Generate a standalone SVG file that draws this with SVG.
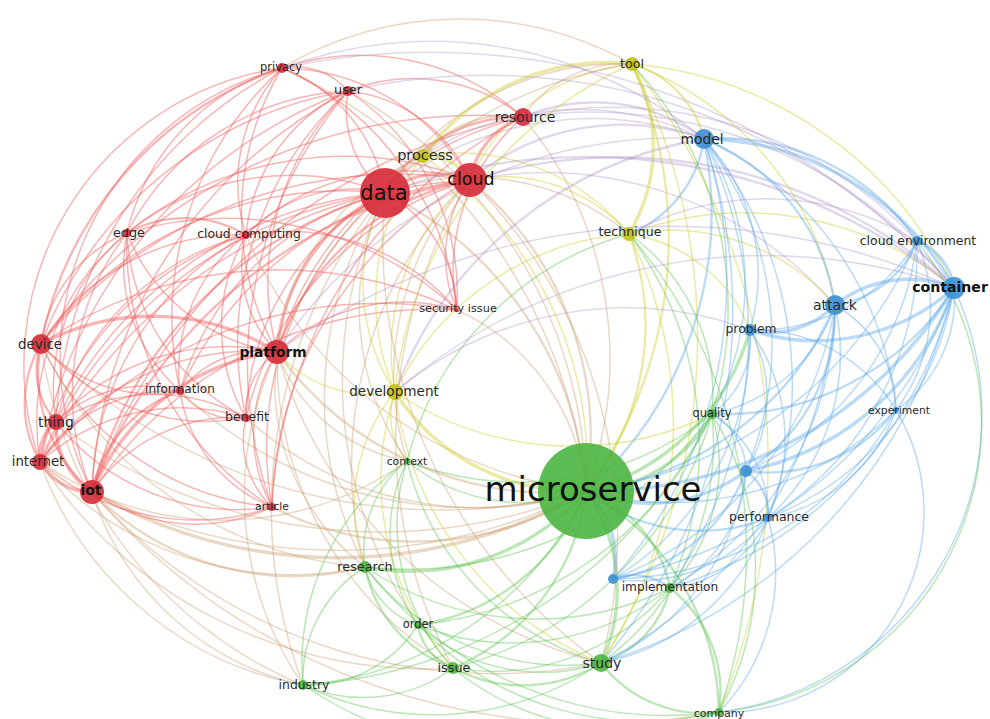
<svg xmlns="http://www.w3.org/2000/svg" width="990" height="719" viewBox="0 0 990 719">
<style>
#connectors path{fill:none;stroke-width:1.5;stroke-linecap:round}
.r{stroke:#ef5a5a;stroke-opacity:.45}
.o{stroke:#c8986a;stroke-opacity:.38}
.y{stroke:#d0d036;stroke-opacity:.45}
.g{stroke:#5cc450;stroke-opacity:.42}
.b{stroke:#5aa6e6;stroke-opacity:.42}
.p{stroke:#a88cc4;stroke-opacity:.35}
.t2{stroke-width:2.3 !important}
.t3{stroke-width:3.4 !important}
.nr{fill:#d62f3b;fill-opacity:.92}
.ny{fill:#c3c31c;fill-opacity:.92}
.ng{fill:#4cb541;fill-opacity:.9}
.nb{fill:#3f91d2;fill-opacity:.92}
text{font-family:"DejaVu Sans","Noto Sans",sans-serif;fill:#2a2a2a;text-anchor:middle;dominant-baseline:central}
.big{fill:#111}
.bold{font-weight:bold;fill:#111}
</style>
<rect width="990" height="719" fill="#fff"/>
<g id="connectors">
<path class="r" d="M282 68A162 162 0 0 1 385 193"/>
<path class="r" d="M385 193A108 108 0 0 1 348 91"/>
<path class="r" d="M127 233A261 261 0 0 1 385 193"/>
<path class="r" d="M246 235A145 145 0 0 1 385 193"/>
<path class="r" d="M41 344A376 376 0 0 1 385 193"/>
<path class="r t3" d="M277 352A192 192 0 0 1 385 193"/>
<path class="r" d="M180 391A285 285 0 0 1 385 193"/>
<path class="r" d="M246 418A264 264 0 0 1 385 193"/>
<path class="r" d="M56 422A401 401 0 0 1 385 193"/>
<path class="r" d="M40 462A437 437 0 0 1 385 193"/>
<path class="r t2" d="M92 492A419 419 0 0 1 385 193"/>
<path class="r" d="M272 507A334 334 0 0 1 385 193"/>
<path class="r t2" d="M385 193A158 158 0 0 1 523 117"/>
<path class="r t3" d="M385 193A86 86 0 0 1 470 180"/>
<path class="r" d="M385 193A137 137 0 0 1 457 310"/>
<path class="o t2" d="M385 193A359 359 0 0 1 586 491"/>
<path class="y" d="M395 392A199 199 0 0 1 385 193"/>
<path class="o" d="M365 567A375 375 0 0 1 385 193"/>
<path class="p" d="M385 193A323 323 0 0 1 704 139"/>
<path class="o" d="M385 193A247 247 0 0 1 629 234"/>
<path class="o t2" d="M385 193A53 53 0 0 1 423 156"/>
<path class="r" d="M282 68A219 219 0 0 1 470 180"/>
<path class="r" d="M348 91A151 151 0 0 1 470 180"/>
<path class="r t3" d="M470 180A82 82 0 0 1 523 117"/>
<path class="r" d="M127 233A347 347 0 0 1 470 180"/>
<path class="r" d="M246 235A231 231 0 0 1 470 180"/>
<path class="r" d="M41 344A459 459 0 0 1 470 180"/>
<path class="r t2" d="M277 352A258 258 0 0 1 470 180"/>
<path class="r" d="M180 391A359 359 0 0 1 470 180"/>
<path class="r t2" d="M92 492A490 490 0 0 1 470 180"/>
<path class="r" d="M40 462A514 514 0 0 1 470 180"/>
<path class="r" d="M246 418A327 327 0 0 1 470 180"/>
<path class="o t2" d="M470 180A332 332 0 0 1 586 491"/>
<path class="r" d="M457 310A131 131 0 0 1 470 180"/>
<path class="y" d="M470 180A199 199 0 0 1 632 64"/>
<path class="p t2" d="M470 180A238 238 0 0 1 704 139"/>
<path class="r" d="M272 507A382 382 0 0 1 470 180"/>
<path class="y" d="M395 392A225 225 0 0 1 470 180"/>
<path class="y" d="M470 180A168 168 0 0 1 629 234"/>
<path class="p" d="M470 180A386 386 0 0 1 835 305"/>
<path class="p t2" d="M470 180A496 496 0 0 1 954 288"/>
<path class="r" d="M282 68A246 246 0 0 1 523 117"/>
<path class="r" d="M348 91A177 177 0 0 1 523 117"/>
<path class="o" d="M523 117A379 379 0 0 1 586 491"/>
<path class="r" d="M277 352A340 340 0 0 1 523 117"/>
<path class="r" d="M92 492A571 571 0 0 1 523 117"/>
<path class="r" d="M41 344A533 533 0 0 1 523 117"/>
<path class="p" d="M523 117A464 464 0 0 1 954 288"/>
<path class="p t2" d="M523 117A182 182 0 0 1 704 139"/>
<path class="o" d="M523 117A121 121 0 0 1 632 64"/>
<path class="p" d="M523 117A413 413 0 0 1 917 241"/>
<path class="r" d="M272 507A464 464 0 0 1 523 117"/>
<path class="r" d="M457 310A204 204 0 0 1 523 117"/>
<path class="r t2" d="M41 344A366 366 0 0 1 282 68"/>
<path class="r" d="M127 233A226 226 0 0 1 282 68"/>
<path class="r" d="M92 492A300 300 0 0 1 282 68"/>
<path class="r" d="M40 462A300 300 0 0 1 282 68"/>
<path class="r" d="M277 352A284 284 0 0 1 282 68"/>
<path class="r" d="M282 68A70 70 0 0 1 348 91"/>
<path class="r" d="M56 422A420 420 0 0 1 282 68"/>
<path class="o" d="M282 68A521 521 0 0 1 586 491"/>
<path class="r" d="M246 235A171 171 0 0 1 282 68"/>
<path class="r" d="M180 391A339 339 0 0 1 282 68"/>
<path class="r" d="M41 344A398 398 0 0 1 348 91"/>
<path class="r" d="M277 352A270 270 0 0 1 348 91"/>
<path class="r" d="M92 492A476 476 0 0 1 348 91"/>
<path class="r" d="M127 233A263 263 0 0 1 348 91"/>
<path class="r" d="M246 418A343 343 0 0 1 348 91"/>
<path class="r" d="M40 462A482 482 0 0 1 348 91"/>
<path class="r" d="M246 235A176 176 0 0 1 348 91"/>
<path class="r" d="M272 507A423 423 0 0 1 348 91"/>
<path class="o" d="M348 91A465 465 0 0 1 586 491"/>
<path class="r" d="M41 344A140 140 0 0 1 127 233"/>
<path class="r" d="M92 492A261 261 0 0 1 127 233"/>
<path class="r" d="M40 462A245 245 0 0 1 127 233"/>
<path class="r" d="M56 422A202 202 0 0 1 127 233"/>
<path class="r" d="M277 352A191 191 0 0 1 127 233"/>
<path class="r t2" d="M127 233A119 119 0 0 1 246 235"/>
<path class="r" d="M246 418A220 220 0 0 1 127 233"/>
<path class="r" d="M180 391A167 167 0 0 1 127 233"/>
<path class="r" d="M272 507A310 310 0 0 1 127 233"/>
<path class="r" d="M41 344A232 232 0 0 1 246 235"/>
<path class="r" d="M277 352A121 121 0 0 1 246 235"/>
<path class="r" d="M92 492A300 300 0 0 1 246 235"/>
<path class="r" d="M40 462A307 307 0 0 1 246 235"/>
<path class="r" d="M56 422A267 267 0 0 1 246 235"/>
<path class="r" d="M246 418A183 183 0 0 1 246 235"/>
<path class="r" d="M180 391A169 169 0 0 1 246 235"/>
<path class="o" d="M586 491A426 426 0 0 1 246 235"/>
<path class="r t3" d="M41 344A236 236 0 0 1 277 352"/>
<path class="r t2" d="M56 422A79 79 0 0 1 41 344"/>
<path class="r t2" d="M40 462A118 118 0 0 1 41 344"/>
<path class="r t2" d="M92 492A157 157 0 0 1 41 344"/>
<path class="r" d="M180 391A147 147 0 0 1 41 344"/>
<path class="r" d="M246 418A218 218 0 0 1 41 344"/>
<path class="r" d="M272 507A283 283 0 0 1 41 344"/>
<path class="o" d="M586 491A564 564 0 0 1 41 344"/>
<path class="r" d="M41 344A417 417 0 0 1 457 310"/>
<path class="r" d="M56 422A232 232 0 0 1 277 352"/>
<path class="r" d="M40 462A261 261 0 0 1 277 352"/>
<path class="r t3" d="M92 492A232 232 0 0 1 277 352"/>
<path class="r" d="M180 391A105 105 0 0 1 277 352"/>
<path class="r" d="M246 418A73 73 0 0 1 277 352"/>
<path class="r" d="M272 507A155 155 0 0 1 277 352"/>
<path class="o t2" d="M586 491A339 339 0 0 1 277 352"/>
<path class="r" d="M277 352A185 185 0 0 1 457 310"/>
<path class="y" d="M395 392A125 125 0 0 1 277 352"/>
<path class="p" d="M277 352A680 680 0 0 1 954 288"/>
<path class="p" d="M277 352A477 477 0 0 1 704 139"/>
<path class="r" d="M56 422A128 128 0 0 1 180 391"/>
<path class="r" d="M40 462A157 157 0 0 1 180 391"/>
<path class="r t2" d="M92 492A134 134 0 0 1 180 391"/>
<path class="r" d="M246 418A71 71 0 0 1 180 391"/>
<path class="o" d="M586 491A418 418 0 0 1 180 391"/>
<path class="r" d="M92 492A171 171 0 0 1 246 418"/>
<path class="r" d="M40 462A211 211 0 0 1 246 418"/>
<path class="r" d="M56 422A190 190 0 0 1 246 418"/>
<path class="o" d="M586 491A348 348 0 0 1 246 418"/>
<path class="r t3" d="M40 462A43 43 0 0 1 56 422"/>
<path class="r t3" d="M92 492A79 79 0 0 1 56 422"/>
<path class="r t3" d="M92 492A60 60 0 0 1 40 462"/>
<path class="o t3" d="M586 491A494 494 0 0 1 92 492"/>
<path class="r" d="M272 507A181 181 0 0 1 92 492"/>
<path class="o" d="M719 712A664 664 0 0 1 92 492"/>
<path class="o" d="M601 663A537 537 0 0 1 92 492"/>
<path class="o t2" d="M365 567A283 283 0 0 1 92 492"/>
<path class="o" d="M586 491A547 547 0 0 1 40 462"/>
<path class="o" d="M586 491A534 534 0 0 1 56 422"/>
<path class="o" d="M303 685A286 286 0 0 1 92 492"/>
<path class="o" d="M453 668A461 461 0 0 1 40 462"/>
<path class="o t2" d="M586 491A314 314 0 0 1 272 507"/>
<path class="o" d="M457 310A222 222 0 0 1 586 491"/>
<path class="r" d="M92 492A408 408 0 0 1 457 310"/>
<path class="r" d="M348 91A245 245 0 0 1 457 310"/>
<path class="r" d="M282 68A299 299 0 0 1 457 310"/>
<path class="r" d="M127 233A339 339 0 0 1 457 310"/>
<path class="r" d="M40 462A444 444 0 0 1 457 310"/>
<path class="r" d="M246 235A224 224 0 0 1 457 310"/>
<path class="r" d="M272 507A236 236 0 0 1 40 462"/>
<path class="r" d="M272 507A232 232 0 0 1 56 422"/>
<path class="r" d="M272 507A148 148 0 0 1 180 391"/>
<path class="r" d="M272 507A92 92 0 0 1 246 418"/>
<path class="y t3" d="M632 64A170 170 0 0 1 629 234"/>
<path class="y t3" d="M423 156A228 228 0 0 1 632 64"/>
<path class="y" d="M395 392A405 405 0 0 1 632 64"/>
<path class="y t2" d="M632 64A429 429 0 0 1 586 491"/>
<path class="o" d="M385 193A279 279 0 0 1 632 64"/>
<path class="y" d="M632 64A392 392 0 0 1 954 288"/>
<path class="y t2" d="M632 64A104 104 0 0 1 704 139"/>
<path class="o" d="M282 68A350 350 0 0 1 632 64"/>
<path class="y" d="M632 64A315 315 0 0 1 835 305"/>
<path class="y" d="M632 64A600 600 0 0 1 601 663"/>
<path class="y" d="M632 64A654 654 0 0 1 719 712"/>
<path class="o" d="M277 352A457 457 0 0 1 632 64"/>
<path class="y t3" d="M423 156A52 52 0 0 1 470 180"/>
<path class="y" d="M395 392A238 238 0 0 1 423 156"/>
<path class="y" d="M423 156A373 373 0 0 1 586 491"/>
<path class="y" d="M423 156A220 220 0 0 1 629 234"/>
<path class="p" d="M423 156A282 282 0 0 1 704 139"/>
<path class="o t2" d="M423 156A107 107 0 0 1 523 117"/>
<path class="o" d="M277 352A244 244 0 0 1 423 156"/>
<path class="y t2" d="M629 234A261 261 0 0 1 586 491"/>
<path class="y" d="M395 392A282 282 0 0 1 629 234"/>
<path class="b t2" d="M704 139A121 121 0 0 1 629 234"/>
<path class="y" d="M629 234A218 218 0 0 1 835 305"/>
<path class="y" d="M629 234A154 154 0 0 1 750 330"/>
<path class="y" d="M629 234A430 430 0 0 1 601 663"/>
<path class="y" d="M629 234A329 329 0 0 1 954 288"/>
<path class="y t3" d="M586 491A215 215 0 0 1 395 392"/>
<path class="y" d="M365 567A178 178 0 0 1 395 392"/>
<path class="y" d="M601 663A340 340 0 0 1 395 392"/>
<path class="y" d="M453 668A282 282 0 0 1 395 392"/>
<path class="y" d="M407 461A70 70 0 0 1 395 392"/>
<path class="y" d="M712 414A318 318 0 0 1 395 392"/>
<path class="g t3" d="M586 491A173 173 0 0 1 601 663"/>
<path class="g t2" d="M586 491A221 221 0 0 1 453 668"/>
<path class="g t3" d="M586 491A234 234 0 0 1 365 567"/>
<path class="g t2" d="M586 491A215 215 0 0 1 418 625"/>
<path class="g" d="M586 491A343 343 0 0 1 303 685"/>
<path class="g t2" d="M586 491A258 258 0 0 1 719 712"/>
<path class="g t3" d="M712 414A148 148 0 0 1 586 491"/>
<path class="g t2" d="M586 491A128 128 0 0 1 670 588"/>
<path class="g" d="M586 491A181 181 0 0 1 407 461"/>
<path class="b t2" d="M704 139A371 371 0 0 1 586 491"/>
<path class="b t3" d="M954 288A420 420 0 0 1 586 491"/>
<path class="b t2" d="M835 305A311 311 0 0 1 586 491"/>
<path class="g t3" d="M750 330A230 230 0 0 1 586 491"/>
<path class="b" d="M917 241A415 415 0 0 1 586 491"/>
<path class="b" d="M896 410A320 320 0 0 1 586 491"/>
<path class="b t3" d="M746 471A163 163 0 0 1 586 491"/>
<path class="b t2" d="M768 518A184 184 0 0 1 586 491"/>
<path class="b t3" d="M586 491A92 92 0 0 1 613 579"/>
<path class="g t2" d="M601 663A148 148 0 0 1 453 668"/>
<path class="g" d="M601 663A255 255 0 0 1 365 567"/>
<path class="g" d="M601 663A187 187 0 0 1 418 625"/>
<path class="g" d="M601 663A299 299 0 0 1 303 685"/>
<path class="g t2" d="M719 712A128 128 0 0 1 601 663"/>
<path class="g t2" d="M670 588A102 102 0 0 1 601 663"/>
<path class="g" d="M712 414A273 273 0 0 1 601 663"/>
<path class="g" d="M601 663A280 280 0 0 1 407 461"/>
<path class="b" d="M954 288A515 515 0 0 1 601 663"/>
<path class="b" d="M768 518A221 221 0 0 1 601 663"/>
<path class="b" d="M835 305A428 428 0 0 1 601 663"/>
<path class="g t2" d="M453 668A134 134 0 0 1 365 567"/>
<path class="g" d="M418 625A79 79 0 0 1 365 567"/>
<path class="g" d="M303 685A133 133 0 0 1 365 567"/>
<path class="g" d="M365 567A114 114 0 0 1 407 461"/>
<path class="g" d="M719 712A383 383 0 0 1 365 567"/>
<path class="g" d="M712 414A379 379 0 0 1 365 567"/>
<path class="o" d="M365 567A342 342 0 0 1 40 462"/>
<path class="o" d="M365 567A393 393 0 0 1 41 344"/>
<path class="o" d="M365 567A232 232 0 0 1 277 352"/>
<path class="o" d="M365 567A401 401 0 0 1 470 180"/>
<path class="o" d="M601 663A517 517 0 0 1 385 193"/>
<path class="o" d="M470 180A500 500 0 0 1 601 663"/>
<path class="o" d="M601 663A449 449 0 0 1 277 352"/>
<path class="o" d="M453 668A488 488 0 0 1 470 180"/>
<path class="o" d="M453 668A362 362 0 0 1 277 352"/>
<path class="o" d="M303 685A334 334 0 0 1 277 352"/>
<path class="o" d="M303 685A499 499 0 0 1 385 193"/>
<path class="o" d="M418 625A433 433 0 0 1 385 193"/>
<path class="o" d="M407 461A269 269 0 0 1 385 193"/>
<path class="o" d="M407 461A288 288 0 0 1 470 180"/>
<path class="o" d="M407 461A170 170 0 0 1 277 352"/>
<path class="o" d="M407 461A317 317 0 0 1 92 492"/>
<path class="g" d="M629 234A198 198 0 0 1 712 414"/>
<path class="g" d="M632 64A359 359 0 0 1 712 414"/>
<path class="g" d="M629 234A356 356 0 0 1 670 588"/>
<path class="g" d="M629 234A486 486 0 0 1 719 712"/>
<path class="g t2" d="M453 668A55 55 0 0 1 418 625"/>
<path class="g" d="M453 668A151 151 0 0 1 303 685"/>
<path class="g" d="M719 712A270 270 0 0 1 453 668"/>
<path class="g" d="M670 588A231 231 0 0 1 453 668"/>
<path class="g" d="M453 668A212 212 0 0 1 407 461"/>
<path class="g" d="M712 414A363 363 0 0 1 453 668"/>
<path class="g" d="M719 712A417 417 0 0 1 303 685"/>
<path class="g" d="M418 625A130 130 0 0 1 303 685"/>
<path class="g" d="M303 685A247 247 0 0 1 407 461"/>
<path class="o" d="M303 685A345 345 0 0 1 40 462"/>
<path class="o" d="M303 685A430 430 0 0 1 41 344"/>
<path class="g" d="M712 414A491 491 0 0 1 303 685"/>
<path class="g t2" d="M670 588A133 133 0 0 1 719 712"/>
<path class="g" d="M712 414A298 298 0 0 1 719 712"/>
<path class="b" d="M768 518A200 200 0 0 1 719 712"/>
<path class="b" d="M954 288A300 300 0 0 1 719 712"/>
<path class="b" d="M896 410A200 200 0 0 1 719 712"/>
<path class="g" d="M917 241A290 290 0 0 1 719 712"/>
<path class="g" d="M719 712A313 313 0 0 1 418 625"/>
<path class="b" d="M750 330A92 92 0 0 1 712 414"/>
<path class="g" d="M712 414A309 309 0 0 1 407 461"/>
<path class="g" d="M712 414A179 179 0 0 1 670 588"/>
<path class="g" d="M712 414A362 362 0 0 1 418 625"/>
<path class="b" d="M835 305A164 164 0 0 1 712 414"/>
<path class="g" d="M670 588A255 255 0 0 1 418 625"/>
<path class="g" d="M670 588A306 306 0 0 1 365 567"/>
<path class="b" d="M768 518A120 120 0 0 1 670 588"/>
<path class="b" d="M746 471A140 140 0 0 1 670 588"/>
<path class="g" d="M418 625A164 164 0 0 1 407 461"/>
<path class="g" d="M407 461A317 317 0 0 1 629 234"/>
<path class="b t2" d="M704 139A236 236 0 0 1 917 241"/>
<path class="b t3" d="M704 139A291 291 0 0 1 954 288"/>
<path class="b t2" d="M704 139A211 211 0 0 1 835 305"/>
<path class="b" d="M704 139A196 196 0 0 1 750 330"/>
<path class="b" d="M704 139A332 332 0 0 1 896 410"/>
<path class="b" d="M704 139A335 335 0 0 1 746 471"/>
<path class="b" d="M704 139A384 384 0 0 1 768 518"/>
<path class="b" d="M704 139A449 449 0 0 1 613 579"/>
<path class="b" d="M704 139A275 275 0 0 1 712 414"/>
<path class="p t2" d="M395 392A399 399 0 0 1 704 139"/>
<path class="b" d="M704 139A534 534 0 0 1 601 663"/>
<path class="b" d="M704 139A450 450 0 0 1 670 588"/>
<path class="b t3" d="M917 241A60 60 0 0 1 954 288"/>
<path class="b t2" d="M917 241A104 104 0 0 1 835 305"/>
<path class="b" d="M917 241A189 189 0 0 1 750 330"/>
<path class="b" d="M917 241A170 170 0 0 1 896 410"/>
<path class="b" d="M917 241A287 287 0 0 1 746 471"/>
<path class="b" d="M917 241A315 315 0 0 1 768 518"/>
<path class="p" d="M629 234A288 288 0 0 1 917 241"/>
<path class="b t3" d="M835 305A120 120 0 0 1 954 288"/>
<path class="b t3" d="M954 288A208 208 0 0 1 750 330"/>
<path class="b" d="M954 288A135 135 0 0 1 896 410"/>
<path class="b t3" d="M954 288A277 277 0 0 1 746 471"/>
<path class="b" d="M954 288A296 296 0 0 1 768 518"/>
<path class="b" d="M954 288A448 448 0 0 1 613 579"/>
<path class="b t2" d="M954 288A273 273 0 0 1 712 414"/>
<path class="b" d="M954 288A413 413 0 0 1 670 588"/>
<path class="p" d="M395 392A569 569 0 0 1 954 288"/>
<path class="b t3" d="M835 305A89 89 0 0 1 750 330"/>
<path class="b" d="M835 305A121 121 0 0 1 896 410"/>
<path class="b t2" d="M835 305A188 188 0 0 1 746 471"/>
<path class="b" d="M835 305A223 223 0 0 1 768 518"/>
<path class="b" d="M835 305A353 353 0 0 1 613 579"/>
<path class="b" d="M835 305A328 328 0 0 1 670 588"/>
<path class="b" d="M750 330A141 141 0 0 1 746 471"/>
<path class="b" d="M750 330A189 189 0 0 1 768 518"/>
<path class="b" d="M750 330A284 284 0 0 1 613 579"/>
<path class="b" d="M750 330A166 166 0 0 1 896 410"/>
<path class="p" d="M395 392A360 360 0 0 1 750 330"/>
<path class="b t2" d="M896 410A162 162 0 0 1 746 471"/>
<path class="b" d="M896 410A167 167 0 0 1 768 518"/>
<path class="b" d="M896 410A330 330 0 0 1 613 579"/>
<path class="b t2" d="M746 471A52 52 0 0 1 768 518"/>
<path class="b t2" d="M746 471A171 171 0 0 1 613 579"/>
<path class="b" d="M712 414A66 66 0 0 1 746 471"/>
<path class="b" d="M768 518A167 167 0 0 1 613 579"/>
<path class="b t2" d="M613 579A58 58 0 0 1 670 588"/>
<path class="b" d="M746 471A241 241 0 0 1 601 663"/>
<path class="b" d="M712 414A118 118 0 0 1 768 518"/>
<path class="p" d="M282 68A430 430 0 0 1 704 139"/>
<path class="p" d="M348 91A620 620 0 0 1 954 288"/>
<path class="p t2" d="M385 193A580 580 0 0 1 954 288"/>
<path class="p" d="M282 68A700 700 0 0 1 954 288"/>
</g>
<g id="node-privacy"><circle class="nr" cx="282" cy="68" r="5"/><text x="281" y="67" font-size="11.4">privacy</text></g>
<g id="node-user"><circle class="nr" cx="348" cy="91" r="5"/><text x="348" y="89" font-size="12.8">user</text></g>
<g id="node-resource"><circle class="nr" cx="523" cy="117" r="9"/><text x="525" y="117" font-size="14">resource</text></g>
<g id="node-data"><circle class="nr" cx="385" cy="193" r="25"/><text class="big" x="384" y="193" font-size="21">data</text></g>
<g id="node-cloud"><circle class="nr" cx="470" cy="180" r="17"/><text class="big" x="471" y="179" font-size="17.5">cloud</text></g>
<g id="node-edge"><circle class="nr" cx="127" cy="233" r="4"/><text x="129" y="232" font-size="12.8">edge</text></g>
<g id="node-cloud-computing"><circle class="nr" cx="246" cy="235" r="4"/><text x="249" y="233" font-size="12.4">cloud computing</text></g>
<g id="node-security-issue"><circle class="nr" cx="457" cy="310" r="2"/><text x="458" y="308" font-size="11.3">security issue</text></g>
<g id="node-device"><circle class="nr" cx="41" cy="344" r="10"/><text x="40" y="344" font-size="13.4">device</text></g>
<g id="node-platform"><circle class="nr" cx="277" cy="352" r="12"/><text class="bold" x="273" y="352" font-size="13.8">platform</text></g>
<g id="node-information"><circle class="nr" cx="180" cy="391" r="4"/><text x="180" y="389" font-size="12.1">information</text></g>
<g id="node-benefit"><circle class="nr" cx="246" cy="418" r="4"/><text x="247" y="416" font-size="12.5">benefit</text></g>
<g id="node-thing"><circle class="nr" cx="56" cy="422" r="8"/><text x="56" y="422" font-size="14">thing</text></g>
<g id="node-internet"><circle class="nr" cx="40" cy="462" r="8"/><text x="38" y="461" font-size="13.3">internet</text></g>
<g id="node-iot"><circle class="nr" cx="92" cy="492" r="12"/><text class="bold" x="91" y="490" font-size="14">iot</text></g>
<g id="node-article"><circle class="nr" cx="272" cy="507" r="4"/><text x="272" y="506" font-size="10.8">article</text></g>
<g id="node-process"><circle class="ny" cx="423" cy="156" r="7"/><text x="425" y="155" font-size="14.5">process</text></g>
<g id="node-tool"><circle class="ny" cx="632" cy="64" r="7"/><text x="632" y="63" font-size="12.7">tool</text></g>
<g id="node-technique"><circle class="ny" cx="629" cy="234" r="7"/><text x="630" y="231" font-size="12.6">technique</text></g>
<g id="node-development"><circle class="ny" cx="395" cy="392" r="8"/><text x="394" y="391" font-size="13.6">development</text></g>
<g id="node-microservice"><circle class="ng" cx="586" cy="491" r="48"/><text class="big" x="593" y="489" font-size="34">microservice</text></g>
<g id="node-context"><circle class="ng" cx="407" cy="461" r="3"/><text x="407" y="461" font-size="10.8">context</text></g>
<g id="node-research"><circle class="ng" cx="365" cy="567" r="6"/><text x="365" y="566" font-size="12.8">research</text></g>
<g id="node-order"><circle class="ng" cx="418" cy="625" r="4"/><text x="418" y="624" font-size="11.5">order</text></g>
<g id="node-issue"><circle class="ng" cx="453" cy="668" r="6"/><text x="454" y="667" font-size="12.8">issue</text></g>
<g id="node-industry"><circle class="ng" cx="303" cy="685" r="5"/><text x="304" y="684" font-size="12.4">industry</text></g>
<g id="node-study"><circle class="ng" cx="601" cy="663" r="9"/><text x="602" y="663" font-size="14">study</text></g>
<g id="node-company"><circle class="ng" cx="719" cy="712" r="4"/><text x="719" y="713" font-size="11">company</text></g>
<g id="node-quality"><circle class="ng" cx="712" cy="414" r="5"/><text x="712" y="413" font-size="11.4">quality</text></g>
<g id="node-implementation"><circle class="ng" cx="670" cy="588" r="5"/><text x="670" y="587" font-size="12.2">implementation</text></g>
<g id="node-model"><circle class="nb" cx="704" cy="139" r="10"/><text x="702" y="139" font-size="13.8">model</text></g>
<g id="node-cloud-environment"><circle class="nb" cx="917" cy="241" r="5"/><text x="918" y="240" font-size="12.4">cloud environment</text></g>
<g id="node-container"><circle class="nb" cx="954" cy="288" r="11"/><text class="bold" x="950" y="287" font-size="14.1">container</text></g>
<g id="node-attack"><circle class="nb" cx="835" cy="305" r="10"/><text x="835" y="305" font-size="14">attack</text></g>
<g id="node-problem"><circle class="nb" cx="750" cy="330" r="6"/><text x="751" y="329" font-size="12.3">problem</text></g>
<g id="node-experiment"><circle class="nb" cx="896" cy="410" r="3"/><text x="899" y="410" font-size="10.8">experiment</text></g>
<g id="node-unlabeled-1"><circle class="nb" cx="746" cy="471" r="6"/></g>
<g id="node-performance"><circle class="nb" cx="768" cy="518" r="4"/><text x="769" y="516" font-size="12.5">performance</text></g>
<g id="node-unlabeled-2"><circle class="nb" cx="613" cy="579" r="5"/></g>
</svg>
